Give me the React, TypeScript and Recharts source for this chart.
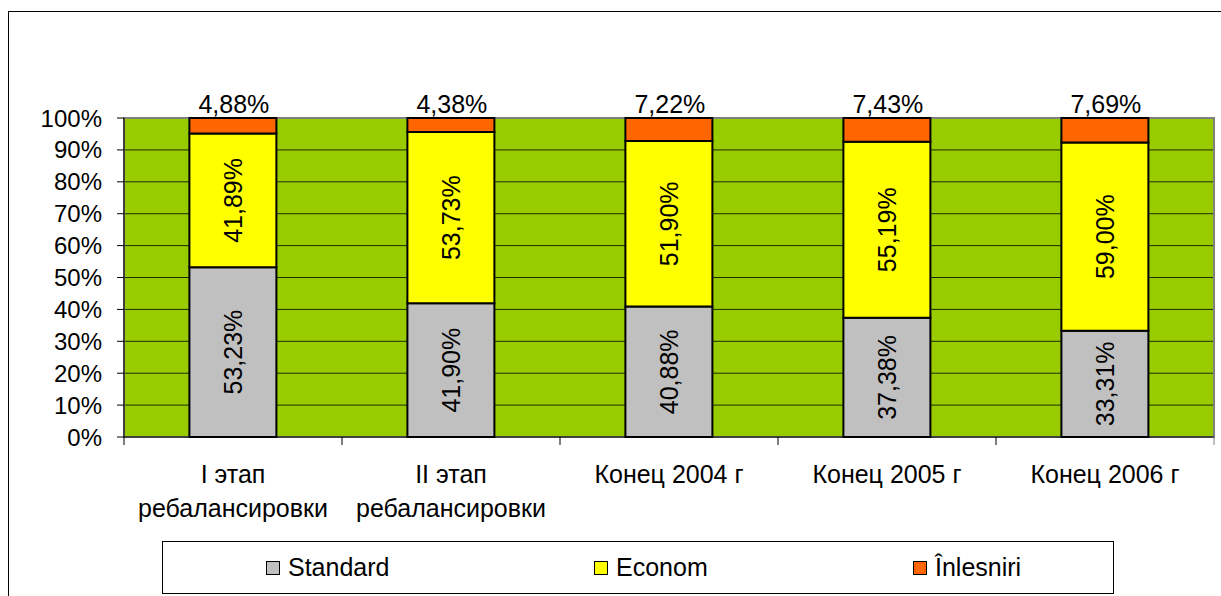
import React from "react";
import {
  BarChart,
  Bar,
  XAxis,
  YAxis,
  CartesianGrid,
  LabelList,
  ReferenceArea,
} from "recharts";

if (typeof document !== "undefined") {
  document.body.style.margin = "0";
  document.body.style.overflow = "hidden";
}

const categories = [
  "I этап\nребалансировки",
  "II этап\nребалансировки",
  "Конец 2004 г",
  "Конец 2005 г",
  "Конец 2006 г",
];
const standardValues = [53.23, 41.9, 40.88, 37.38, 33.31];
const economValues = [41.89, 53.73, 51.9, 55.19, 59.0];
const inlesniriValues = [4.88, 4.38, 7.22, 7.43, 7.69];
const yTicks = [0, 10, 20, 30, 40, 50, 60, 70, 80, 90, 100];

const seriesNames = ["Standard", "Econom", "Înlesniri"];
const seriesColors = ["#C0C0C0", "#FFFF00", "#FF6600"];

const data = categories.map((c, i) => ({
  name: c,
  standard: standardValues[i],
  econom: economValues[i],
  inlesniri: inlesniriValues[i],
}));

const FONT = "'Liberation Sans', Arial, sans-serif";
const FS = 25;
const FS_Y = 24;

const W = 1221;
const H = 596;
const MARGIN = { top: 118, right: 7, bottom: 59, left: 24 };
const Y_AXIS_W = 100;
const X_AXIS_H = 100;
const PLOT_W = W - MARGIN.left - Y_AXIS_W - MARGIN.right;
const BAND = PLOT_W / categories.length;

const fmt = (v: number) => v.toFixed(2).replace(".", ",") + "%";

const VerticalLabel = (props: any) => {
  const { x, y, width, height, value } = props;
  const cx = Number(x) + Number(width) / 2;
  const cy = Number(y) + Number(height) / 2;
  return (
    <text
      x={cx}
      y={cy}
      transform={`rotate(-90 ${cx} ${cy})`}
      textAnchor="middle"
      dominantBaseline="central"
      fontFamily={FONT}
      fontSize={FS}
      fill="#000"
    >
      {fmt(Number(value))}
    </text>
  );
};

const TopLabel = (props: any) => {
  const { x, y, width, value } = props;
  const cx = Number(x) + Number(width) / 2 + 1;
  return (
    <text
      x={cx}
      y={Number(y) - 5}
      textAnchor="middle"
      fontFamily={FONT}
      fontSize={FS}
      fill="#000"
    >
      {fmt(Number(value))}
    </text>
  );
};

const XTick = (props: any) => {
  const { x, y, payload, index } = props;
  const lines = String(payload.value).split("\n");
  const axisY = Number(y);
  const left = Number(x) - BAND / 2;
  const right = Number(x) + BAND / 2;
  return (
    <g>
      <line x1={left} x2={left} y1={axisY} y2={axisY + 8} stroke="#000" strokeWidth={1} />
      {index === categories.length - 1 && (
        <line x1={right} x2={right} y1={axisY} y2={axisY + 8} stroke="#808080" strokeWidth={1} />
      )}
      {lines.map((l, i) => (
        <text
          key={i}
          x={Number(x)}
          y={axisY + 46 + i * 34}
          textAnchor="middle"
          fontFamily={FONT}
          fontSize={FS}
          fill="#000"
        >
          {l}
        </text>
      ))}
    </g>
  );
};

const legendLefts = [265, 593, 912];

export default function App() {
  return (
    <div
      style={{
        position: "relative",
        width: W,
        height: H,
        overflow: "hidden",
        background: "#fff",
        fontFamily: FONT,
      }}
    >
      <div
        style={{
          position: "absolute",
          left: 8,
          top: 11,
          width: 1300,
          height: 700,
          border: "1px solid #000",
          boxSizing: "border-box",
        }}
      />
      <div style={{ position: "absolute", left: 0, top: 0 }}>
        <BarChart
          width={W}
          height={H}
          data={data}
          margin={MARGIN}
          barCategoryGap="30%"
        >
          <CartesianGrid
            vertical={false}
            horizontal={true}
            stroke="#1f2a00"
            strokeWidth={1}
            fill="#99CC00"
            fillOpacity={1}
          />
          <ReferenceArea
            y1={0}
            y2={100}
            fill="none"
            fillOpacity={0}
            stroke="#808080"
            strokeWidth={2}
            ifOverflow="visible"
          />
          <XAxis
            dataKey="name"
            height={X_AXIS_H}
            interval={0}
            axisLine={{ stroke: "#000", strokeWidth: 1 }}
            tickLine={false}
            tickSize={0}
            tickMargin={0}
            tick={<XTick />}
          />
          <YAxis
            width={Y_AXIS_W}
            domain={[0, 100]}
            ticks={yTicks}
            interval={0}
            tickFormatter={(v: number) => `${v}%`}
            axisLine={{ stroke: "#000", strokeWidth: 1 }}
            tickLine={{ stroke: "#000", strokeWidth: 1 }}
            tickSize={7}
            tickMargin={15}
            tick={{ fill: "#000", fontSize: FS_Y, fontFamily: FONT }}
          />
          <Bar
            dataKey="standard"
            stackId="a"
            fill={seriesColors[0]}
            stroke="#000"
            strokeWidth={2}
            isAnimationActive={false}
          >
            <LabelList dataKey="standard" content={<VerticalLabel />} />
          </Bar>
          <Bar
            dataKey="econom"
            stackId="a"
            fill={seriesColors[1]}
            stroke="#000"
            strokeWidth={2}
            isAnimationActive={false}
          >
            <LabelList dataKey="econom" content={<VerticalLabel />} />
          </Bar>
          <Bar
            dataKey="inlesniri"
            stackId="a"
            fill={seriesColors[2]}
            stroke="#000"
            strokeWidth={2}
            isAnimationActive={false}
          >
            <LabelList dataKey="inlesniri" content={<TopLabel />} />
          </Bar>
        </BarChart>
      </div>
      <div
        style={{
          position: "absolute",
          left: 162,
          top: 541,
          width: 952,
          height: 53,
          border: "1px solid #000",
          boxSizing: "border-box",
          background: "#fff",
        }}
      >
        {seriesNames.map((n, i) => (
          <div
            key={n}
            style={{
              position: "absolute",
              left: legendLefts[i] - 162,
              top: 0,
              height: 51,
              display: "flex",
              alignItems: "center",
              fontFamily: FONT,
              fontSize: FS,
              color: "#000",
              whiteSpace: "nowrap",
            }}
          >
            <span
              style={{
                display: "inline-block",
                width: 14,
                height: 14,
                background: seriesColors[i],
                border: "1px solid #000",
                boxSizing: "border-box",
                marginRight: 8,
              }}
            />
            {n}
          </div>
        ))}
      </div>
    </div>
  );
}
